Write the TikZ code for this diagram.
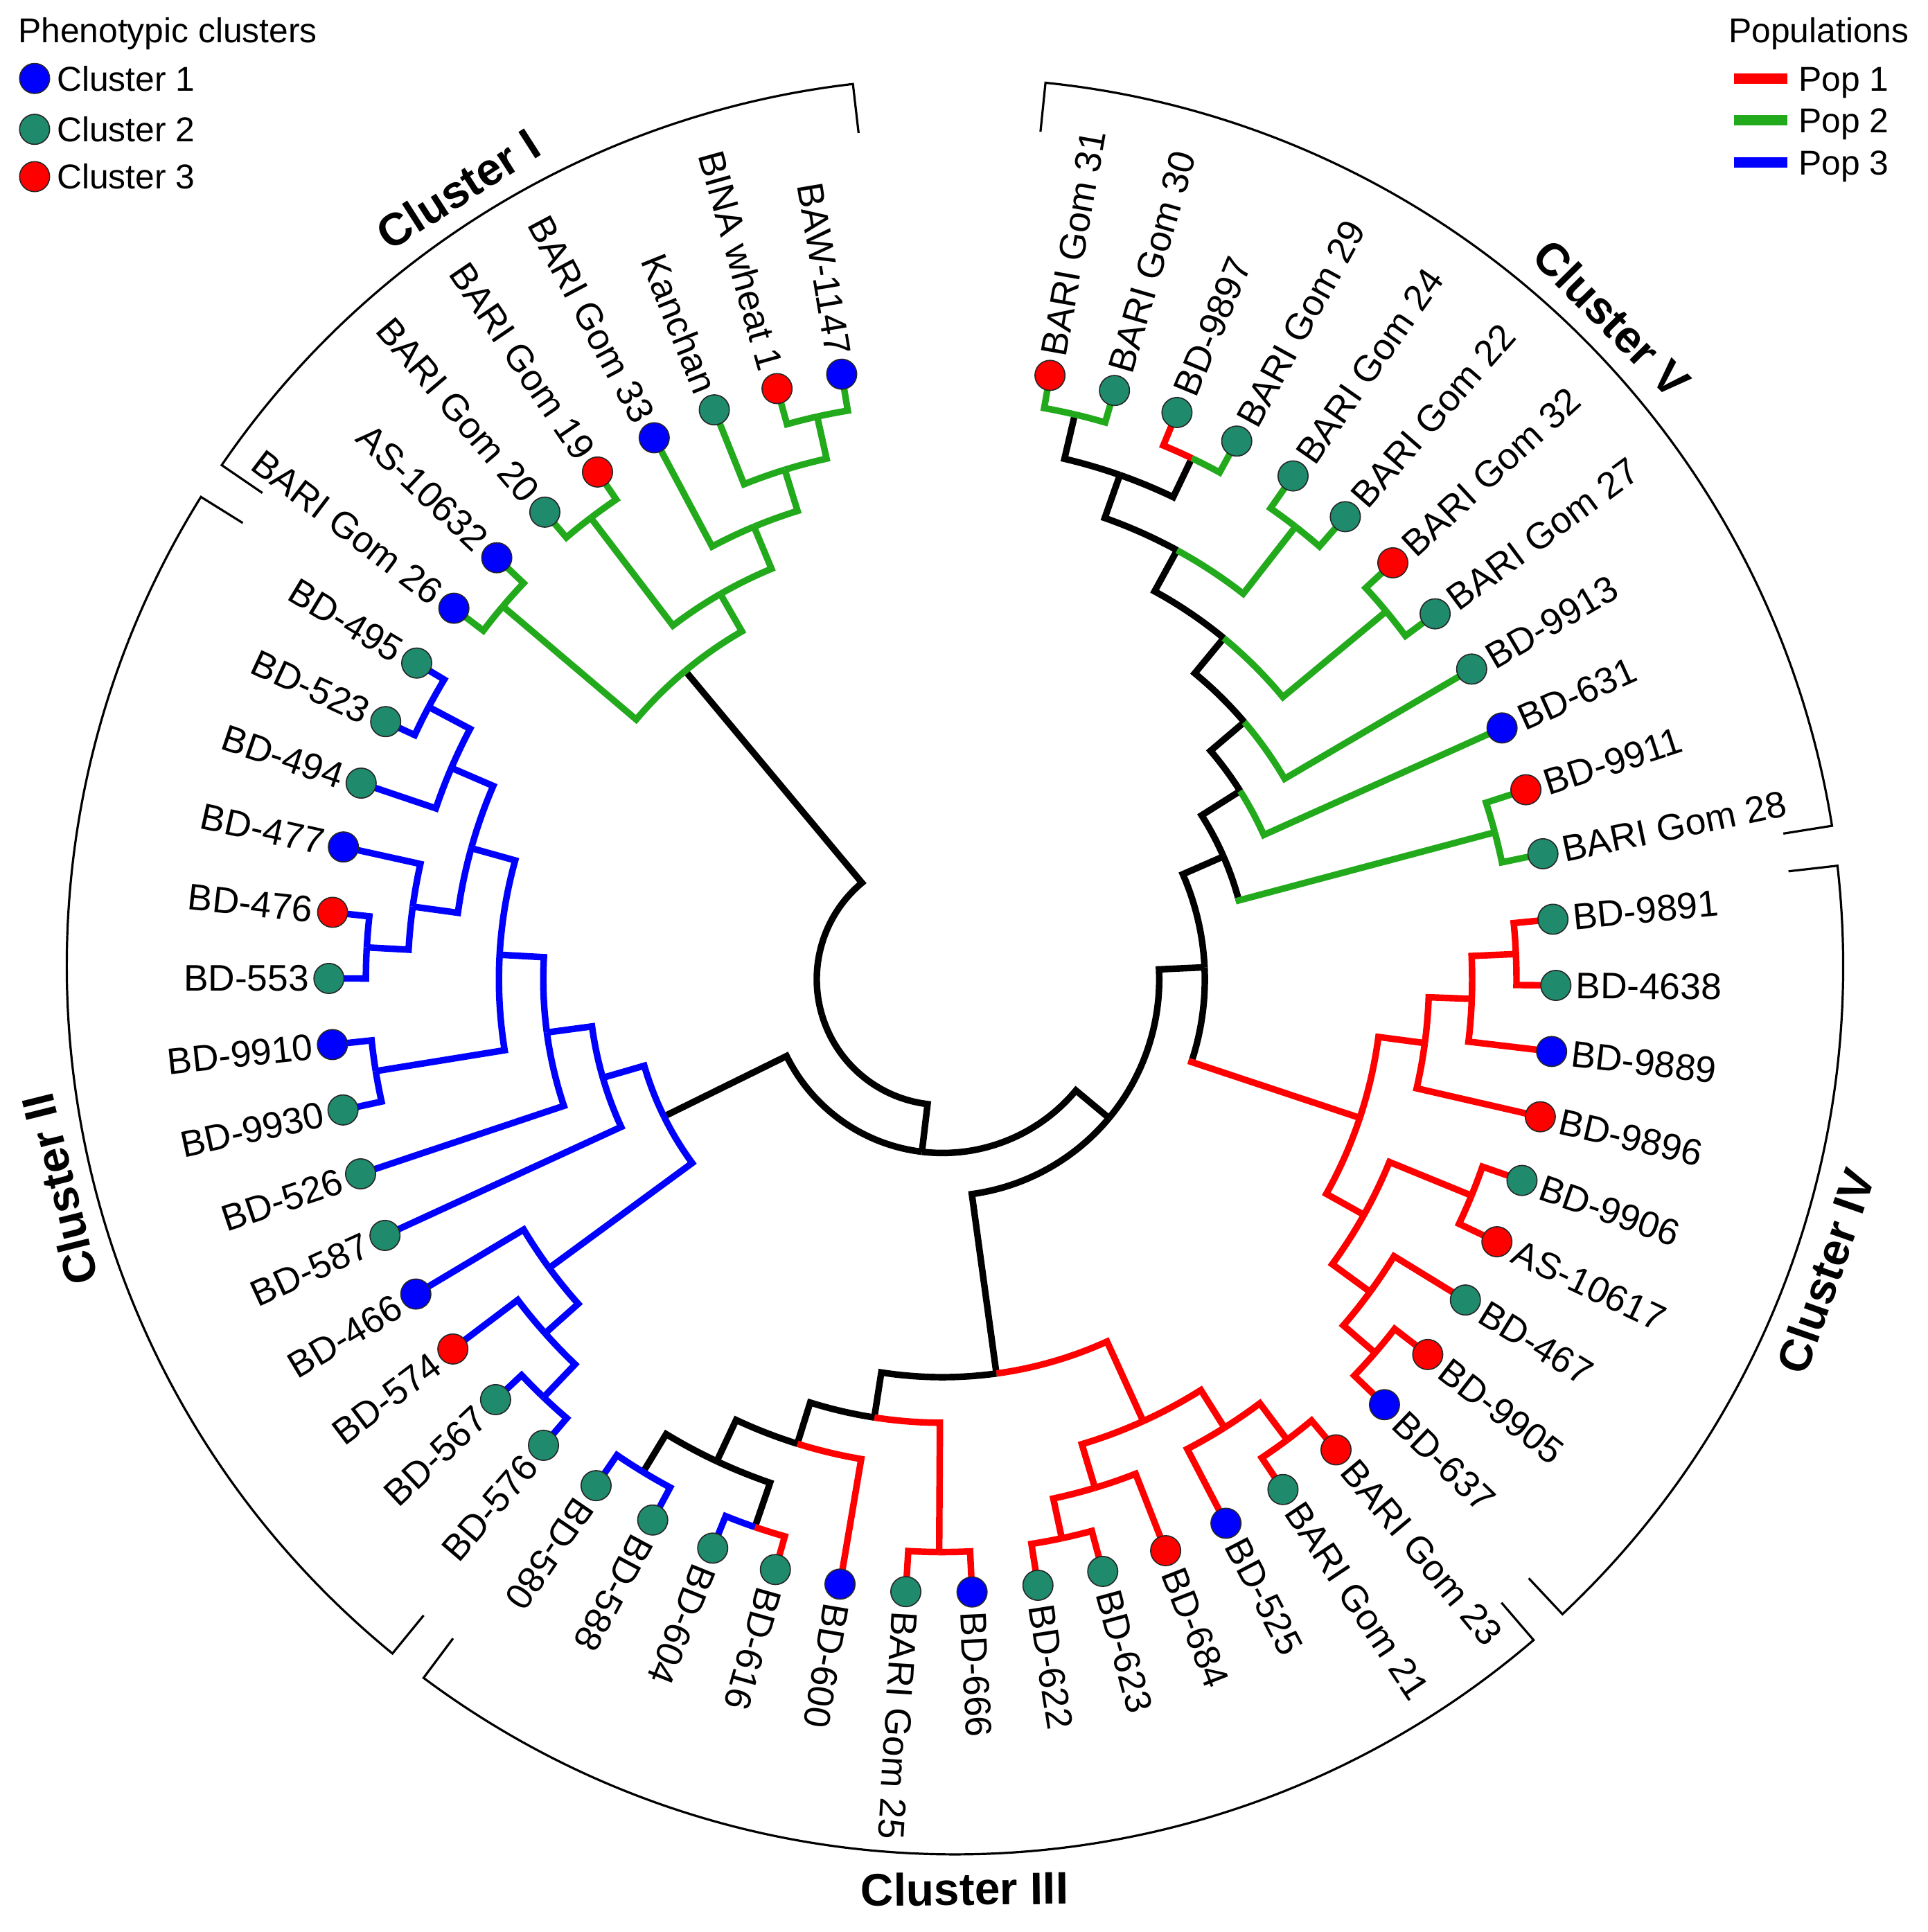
\documentclass[tikz,border=0pt]{standalone}
\usepackage{fontspec}
\setmainfont{Liberation Sans}
\definecolor{pgreen}{RGB}{34,170,28}
\definecolor{pred}{RGB}{255,0,0}
\definecolor{pblue}{RGB}{0,0,255}
\definecolor{dteal}{RGB}{31,138,108}
\definecolor{dblue}{RGB}{0,0,255}
\definecolor{dred}{RGB}{255,0,0}
\newcommand\thof[1]{\csname th-#1\endcsname}
\newcommand\rof[1]{\csname r-#1\endcsname}
\newcommand\defleaf[2]{%
  \pgfmathsetmacro\tzth{10.1+(#2-1)*6.19}%
  \global\expandafter\let\csname th-#1\endcsname\tzth
  \global\expandafter\def\csname r-#1\endcsname{498}%
  \coordinate (#1) at ({90-\tzth}:498);}
\newcommand\defmid[4]{%
  \pgfmathsetmacro\tzth{(\thof{#2}+\thof{#3})/2}%
  \global\expandafter\let\csname th-#1\endcsname\tzth
  \global\expandafter\def\csname r-#1\endcsname{#4}%
  \coordinate (#1) at ({90-\tzth}:#4);}
\newcommand\tedge[3]{%
  \pgfmathsetmacro\tzsa{90-\thof{#1}}%
  \pgfmathsetmacro\tzea{90-\thof{#2}}%
  \draw[branch,#3] (#1) arc[start angle=\tzsa, end angle=\tzea, radius=\rof{#1}] -- (#2);}
\newcommand\tsplit[4]{%
  \pgfmathsetmacro\tzsa{90-\thof{#1}}%
  \pgfmathsetmacro\tzea{90-\thof{#2}}%
  \pgfmathsetmacro\tzrr{\rof{#1}-2.65}%
  \draw[branch,#3] (#1) arc[start angle=\tzsa, end angle=\tzea, radius=\rof{#1}];
  \draw[branch,#4] (\tzea:\tzrr) -- (#2);}
\newcommand\leafmark[3]{%
  \pgfmathsetmacro\tzth{\thof{#1}}%
  \pgfmathtruncatemacro\tzside{\tzth<217 ? 1 : 0}%
  \ifnum\tzside=1
    \node[leaflabel, anchor=west, rotate=90-\tzth] (#1-t) at ({90-\tzth}:514) {#3};%
  \else
    \node[leaflabel, anchor=east, rotate=270-\tzth] (#1-t) at ({90-\tzth}:514) {#3};%
  \fi
  \node[leafdot, fill=#2] (#1-d) at (#1) {};}
\tikzset{
  branch/.style={line width=5.3pt, line join=miter},
  leafdot/.style={circle, inner sep=0pt, minimum size=24.4pt, draw=black!85, line width=0.9pt},
  leaflabel/.style={font=\fontsize{30}{36}\selectfont, inner sep=0pt},
  clabel/.style={font=\fontsize{37}{44}\selectfont\bfseries, inner sep=0pt},
  brk/.style={line width=1.8pt, line join=miter},
  legtext/.style={font=\fontsize{28}{34}\selectfont, inner sep=0pt, anchor=base west},
}
\begin{document}
\begin{tikzpicture}[x=1pt,y=1pt]
\path[fill=white, use as bounding box] (-765,-773.4) rectangle (800,795);
% leaves
\foreach \i in {1,...,56}{\defleaf{l\i}{\i}}
% Cluster V
\defmid{K}{l1}{l2}{471}
\defmid{L}{l3}{l4}{469}
\defmid{J}{K}{L}{434}
\defmid{N56}{l5}{l6}{466}
\defmid{I}{N56}{J}{397}
\defmid{N78}{l7}{l8}{468}
\defmid{H}{N78}{I}{359}
\defmid{G}{l9}{H}{322}
\defmid{F}{l10}{G}{286}
\defmid{N1112}{l11}{l12}{464}
\defmid{E}{N1112}{F}{249}
% Cluster IV
\defmid{AR}{l13}{l14}{466}
\defmid{AQ}{AR}{l15}{430}
\defmid{AO}{AQ}{l16}{395}
\defmid{AS}{l17}{l18}{464}
\defmid{AU}{l20}{l21}{464}
\defmid{AT}{l19}{AU}{430}
\defmid{AP}{AS}{AT}{392}
\defmid{CIV}{AO}{AP}{357}
\defmid{D}{E}{CIV}{213}
% Cluster III
\defmid{AN}{l22}{l23}{467}
\defmid{AL}{AN}{l24}{430}
\defmid{AM}{l26}{l27}{464}
\defmid{AK}{l25}{AM}{431}
\defmid{AD}{AL}{AK}{394}
\defmid{AF}{l28}{l29}{465}
\defmid{AJ}{l31}{l32}{470}
\defmid{AI}{l33}{l34}{468}
\defmid{AH}{AJ}{AI}{432}
\defmid{AG}{l30}{AH}{395}
\defmid{AE}{AF}{AG}{360}
\defmid{CIII}{AD}{AE}{323}
\defmid{C}{D}{CIII}{176}
% Cluster II
\defmid{U}{l35}{l36}{469}
\defmid{T}{U}{l37}{432}
\defmid{S}{T}{l38}{396}
\defmid{Y}{l41}{l42}{466}
\defmid{AB}{l43}{l44}{468}
\defmid{AA}{AB}{l45}{434}
\defmid{AC}{l47}{l48}{472}
\defmid{Z}{l46}{AC}{434}
\defmid{X}{AA}{Z}{397}
\defmid{W}{Y}{X}{360}
\defmid{V}{l40}{W}{324}
\defmid{R}{l39}{V}{287}
\defmid{CII}{S}{R}{252}
\defmid{B}{C}{CII}{141}
% Cluster I
\defmid{N4950}{l49}{l50}{468}
\defmid{N5152}{l51}{l52}{471}
\defmid{Q}{l55}{l56}{468}
\defmid{P}{l54}{Q}{433}
\defmid{O}{l53}{P}{398}
\defmid{M}{N5152}{O}{361}
\defmid{CI}{N4950}{M}{326}
\defmid{A}{B}{CI}{102}
% ---- backbone
\tedge{A}{CI}{black}
\tedge{A}{B}{black}
\tedge{B}{C}{black}
\tedge{B}{CII}{black}
\tedge{C}{D}{black}
\tedge{C}{CIII}{black}
\tedge{D}{E}{black}
\tsplit{D}{CIV}{black}{pred}
% ---- Cluster V
\tsplit{E}{N1112}{black}{pgreen}
\tedge{E}{F}{black}
\tedge{N1112}{l11}{pgreen}
\tedge{N1112}{l12}{pgreen}
\tedge{F}{G}{black}
\tedge{F}{l10}{pgreen}
\tedge{G}{H}{black}
\tedge{G}{l9}{pgreen}
\tedge{H}{I}{black}
\tedge{H}{N78}{pgreen}
\tedge{N78}{l7}{pgreen}
\tedge{N78}{l8}{pgreen}
\tedge{I}{J}{black}
\tedge{I}{N56}{pgreen}
\tedge{N56}{l5}{pgreen}
\tedge{N56}{l6}{pgreen}
\tedge{J}{K}{black}
\tedge{J}{L}{black}
\tedge{K}{l1}{pgreen}
\tedge{K}{l2}{pgreen}
\tedge{L}{l3}{pred}
\tedge{L}{l4}{pgreen}
% ---- Cluster IV
\tedge{CIV}{AO}{pred}
\tedge{CIV}{AP}{pred}
\tedge{AO}{AQ}{pred}
\tedge{AO}{l16}{pred}
\tedge{AQ}{AR}{pred}
\tedge{AQ}{l15}{pred}
\tedge{AR}{l13}{pred}
\tedge{AR}{l14}{pred}
\tedge{AP}{AS}{pred}
\tedge{AP}{AT}{pred}
\tedge{AS}{l17}{pred}
\tedge{AS}{l18}{pred}
\tedge{AT}{l19}{pred}
\tedge{AT}{AU}{pred}
\tedge{AU}{l20}{pred}
\tedge{AU}{l21}{pred}
% ---- Cluster III
\tedge{CIII}{AD}{pred}
\tedge{CIII}{AE}{black}
\tedge{AD}{AL}{pred}
\tedge{AD}{AK}{pred}
\tedge{AL}{AN}{pred}
\tedge{AL}{l24}{pred}
\tedge{AN}{l22}{pred}
\tedge{AN}{l23}{pred}
\tedge{AK}{l25}{pred}
\tedge{AK}{AM}{pred}
\tedge{AM}{l26}{pred}
\tedge{AM}{l27}{pred}
\tedge{AE}{AF}{pred}
\tedge{AF}{l28}{pred}
\tedge{AF}{l29}{pred}
\tedge{AE}{AG}{black}
\tedge{AG}{l30}{pred}
\tedge{AG}{AH}{black}
\tedge{AH}{AI}{black}
\tedge{AH}{AJ}{black}
\tedge{AI}{l33}{pblue}
\tedge{AI}{l34}{pblue}
\tedge{AJ}{l32}{pblue}
\tedge{AJ}{l31}{pred}
% ---- Cluster II
\tedge{CII}{S}{pblue}
\tedge{CII}{R}{pblue}
\tedge{S}{l38}{pblue}
\tedge{S}{T}{pblue}
\tedge{T}{l37}{pblue}
\tedge{T}{U}{pblue}
\tedge{U}{l35}{pblue}
\tedge{U}{l36}{pblue}
\tedge{R}{l39}{pblue}
\tedge{R}{V}{pblue}
\tedge{V}{l40}{pblue}
\tedge{V}{W}{pblue}
\tedge{W}{Y}{pblue}
\tedge{W}{X}{pblue}
\tedge{Y}{l41}{pblue}
\tedge{Y}{l42}{pblue}
\tedge{X}{AA}{pblue}
\tedge{X}{Z}{pblue}
\tedge{AA}{AB}{pblue}
\tedge{AA}{l45}{pblue}
\tedge{AB}{l43}{pblue}
\tedge{AB}{l44}{pblue}
\tedge{Z}{l46}{pblue}
\tedge{Z}{AC}{pblue}
\tedge{AC}{l47}{pblue}
\tedge{AC}{l48}{pblue}
% ---- Cluster I
\tedge{CI}{N4950}{pgreen}
\tedge{CI}{M}{pgreen}
\tedge{N4950}{l49}{pgreen}
\tedge{N4950}{l50}{pgreen}
\tedge{M}{N5152}{pgreen}
\tedge{M}{O}{pgreen}
\tedge{N5152}{l51}{pgreen}
\tedge{N5152}{l52}{pgreen}
\tedge{O}{l53}{pgreen}
\tedge{O}{P}{pgreen}
\tedge{P}{l54}{pgreen}
\tedge{P}{Q}{pgreen}
\tedge{Q}{l55}{pgreen}
\tedge{Q}{l56}{pgreen}
% ---- leaf dots and labels
\foreach \i/\col/\lab in {
 1/dred/BARI Gom 31, 2/dteal/BARI Gom 30, 3/dteal/BD-9897, 4/dteal/BARI Gom 29,
 5/dteal/BARI Gom 24, 6/dteal/BARI Gom 22, 7/dred/BARI Gom 32, 8/dteal/BARI Gom 27,
 9/dteal/BD-9913, 10/dblue/BD-631, 11/dred/BD-9911, 12/dteal/BARI Gom 28,
 13/dteal/BD-9891, 14/dteal/BD-4638, 15/dblue/BD-9889, 16/dred/BD-9896,
 17/dteal/BD-9906, 18/dred/AS-10617, 19/dteal/BD-467, 20/dred/BD-9905,
 21/dblue/BD-637, 22/dred/BARI Gom 23, 23/dteal/BARI Gom 21, 24/dblue/BD-525,
 25/dred/BD-684, 26/dteal/BD-623, 27/dteal/BD-622, 28/dblue/BD-666,
 29/dteal/BARI Gom 25, 30/dblue/BD-600, 31/dteal/BD-616, 32/dteal/BD-604,
 33/dteal/BD-588, 34/dteal/BD-580, 35/dteal/BD-576, 36/dteal/BD-567,
 37/dred/BD-574, 38/dblue/BD-466, 39/dteal/BD-587, 40/dteal/BD-526,
 41/dteal/BD-9930, 42/dblue/BD-9910, 43/dteal/BD-553, 44/dred/BD-476,
 45/dblue/BD-477, 46/dteal/BD-494, 47/dteal/BD-523, 48/dteal/BD-495,
 49/dblue/BARI Gom 26, 50/dblue/AS-10632, 51/dteal/BARI Gom 20, 52/dred/BARI Gom 19,
 53/dblue/BARI Gom 33, 54/dteal/Kanchan, 55/dred/BINA wheat 1, 56/dblue/BAW-1147}
 {\leafmark{l\i}{\col}{\lab}}
% ---- brackets and cluster names
\begin{scope}[shift={(10.2,10.6)}]
 \draw[brk] ({90-304.35}:681) -- ({90-304.35}:721) arc[start angle={90-304.35}, end angle={90-353.4}, radius=721] -- ({90-353.4}:681);
 \draw[brk] ({90-219.3}:681) -- ({90-219.3}:721) arc[start angle={90-219.3}, end angle={90-301.9}, radius=721] -- ({90-301.9}:681);
 \draw[brk] ({90-139.35}:681) -- ({90-139.35}:721) arc[start angle={90-139.35}, end angle={90-216.75}, radius=721] -- ({90-216.75}:681);
 \draw[brk] ({90-83.5}:681) -- ({90-83.5}:721) arc[start angle={90-83.5}, end angle={90-136.85}, radius=721] -- ({90-136.85}:681);
 \draw[brk] ({90-5.85}:681) -- ({90-5.85}:721) arc[start angle={90-5.85}, end angle={90-80.9}, radius=721] -- ({90-80.9}:681);
 \node[clabel, rotate=32.6] (cl1) at ({90-327.4}:749) {Cluster I};
 \node[clabel, rotate=104] (cl2) at ({90-256}:749) {Cluster II};
 \node[clabel, rotate=0.6] (cl3) at ({90-179.4}:749) {Cluster III};
 \node[clabel, rotate=70.7] (cl4) at ({90-109.3}:749) {Cluster IV};
 \node[clabel, rotate=-45.4] (cl5) at ({90-45.4}:749) {Cluster V};
\end{scope}
% ---- legends
\node[legtext] (legA) at (-750.5,760.3) {Phenotypic clusters};
\node[leafdot, fill=dblue] (lg1d) at (-736.9,731.3) {};
\node[legtext] (lg1t) at (-719,721.3) {Cluster 1};
\node[leafdot, fill=dteal] (lg2d) at (-736.9,690) {};
\node[legtext] (lg2t) at (-719,680) {Cluster 2};
\node[leafdot, fill=dred] (lg3d) at (-736.9,651.6) {};
\node[legtext] (lg3t) at (-719,641.6) {Cluster 3};
\node[legtext] (legB) at (638,760.3) {Populations};
\coordinate (p1a) at (642.6,731.3); \coordinate (p1b) at (685.8,731.3);
\coordinate (p2a) at (642.6,697.5); \coordinate (p2b) at (685.8,697.5);
\coordinate (p3a) at (642.6,662.9); \coordinate (p3b) at (685.8,662.9);
\draw[pred, line width=8.4pt] (p1a) -- (p1b);
\draw[pgreen, line width=8.4pt] (p2a) -- (p2b);
\draw[pblue, line width=8.4pt] (p3a) -- (p3b);
\node[legtext] (p1t) at (695,721.3) {Pop 1};
\node[legtext] (p2t) at (695,687.5) {Pop 2};
\node[legtext] (p3t) at (695,652.9) {Pop 3};
\end{tikzpicture}
\end{document}
